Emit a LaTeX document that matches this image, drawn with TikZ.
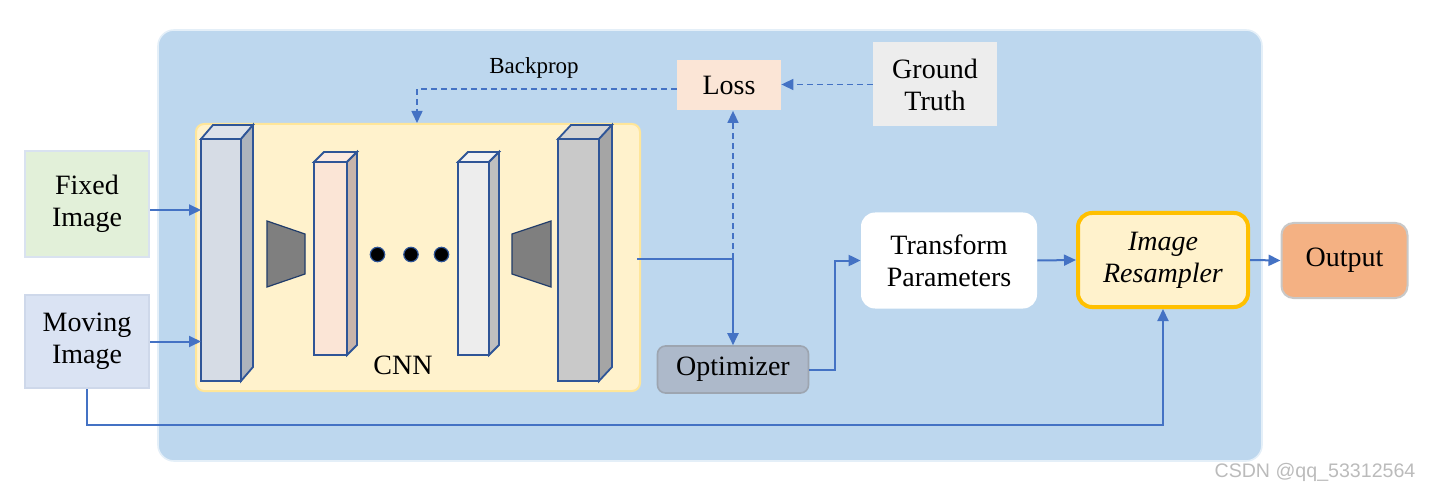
\documentclass[tikz,border=0pt]{standalone}
\usepackage{fontspec}
\setmainfont{Liberation Serif}
\newfontfamily\wmfont{Liberation Sans}
\usetikzlibrary{arrows.meta,calc}
\definecolor{bgblue}{HTML}{BDD7EE}
\definecolor{lineblue}{HTML}{4472C4}
\definecolor{layerline}{HTML}{2F5597}
\definecolor{fixedfill}{HTML}{E2F0D9}
\definecolor{fixeddraw}{HTML}{D9E2F0}
\definecolor{movingfill}{HTML}{DAE3F3}
\definecolor{movingdraw}{HTML}{CED8EA}
\definecolor{cnnfill}{HTML}{FFF2CC}
\definecolor{cnndraw}{HTML}{FFE699}
\definecolor{lossfill}{HTML}{FBE5D6}
\definecolor{gtfill}{HTML}{EDEDED}
\definecolor{rsdraw}{HTML}{FFC000}
\definecolor{outfill}{HTML}{F4B183}
\definecolor{outdraw}{HTML}{C8C8C8}
\definecolor{optfill}{HTML}{ADB9CA}
\definecolor{optdraw}{HTML}{9DA5B0}
\definecolor{trapfill}{HTML}{7F7F7F}
\definecolor{wmgray}{HTML}{BBBBBB}
\definecolor{lafront}{HTML}{D6DCE5}
\definecolor{laside}{HTML}{ADB3BC}
\definecolor{latop}{HTML}{DDE2EA}
\definecolor{lbside}{HTML}{C9B5AB}
\definecolor{lbtop}{HTML}{FCEAE0}
\definecolor{lcside}{HTML}{BFBFBF}
\definecolor{lctop}{HTML}{F2F2F2}
\definecolor{ldfront}{HTML}{C9C9C9}
\definecolor{ldside}{HTML}{A5A5A5}
\definecolor{ldtop}{HTML}{D3D3D3}
\newcommand\mylayer[9]{%
  \filldraw[layerstyle, fill=#9] (#1,#2) -- (#3,#2) -- ++(#5,-#6) -- ++(#1-#3,0) -- cycle;
  \filldraw[layerstyle, fill=#8] (#3,#2) -- ++(#5,-#6) -- ++(0,#4-#2) -- (#3,#4) -- cycle;
  \filldraw[layerstyle, fill=#7] (#1,#2) rectangle (#3,#4);
}
\tikzset{
  box/.style={inner sep=0pt, align=center, font=\fontsize{14}{16}\selectfont},
  conn/.style={draw=lineblue, line width=1pt, -{Triangle[length=6pt,width=5.5pt]}},
  plain/.style={draw=lineblue, line width=1pt},
  dashconn/.style={draw=lineblue, line width=0.75pt, dash pattern=on 3pt off 2pt, -{Triangle[length=6pt,width=5.5pt]}},
  layerstyle/.style={draw=layerline, line width=0.9pt, line join=miter},
  trap/.style={fill=trapfill, draw=layerline!70!black, line width=0.6pt},
}
\begin{document}
\begin{tikzpicture}[x=0.5pt,y=-0.5pt]
\useasboundingbox (0,0) rectangle (1431,492);
% background panel
\fill[bgblue, rounded corners=8pt] (158,30) rectangle (1262,461);
\draw[white!60!bgblue, line width=0.8pt, rounded corners=8pt] (158,30) rectangle (1262,461);

% nodes
\node[box, fill=fixedfill, draw=fixeddraw, line width=1pt, minimum width=62pt, minimum height=53pt] (fixed) at (87,204) {Fixed\\Image};
\node[box, fill=movingfill, draw=movingdraw, line width=1pt, minimum width=62pt, minimum height=46.5pt] (moving) at (87,341.5) {Moving\\Image};
\node[box, fill=cnnfill, draw=cnndraw, line width=1pt, rounded corners=4pt, minimum width=222pt, minimum height=133.5pt] (cnn) at (418,257.5) {};
\node[box, fill=lossfill, minimum width=52pt, minimum height=25pt] (loss) at (729,85.5) {Loss};
\node[box, fill=gtfill, minimum width=62pt, minimum height=42pt] (gt) at (935,84.5) {Ground\\Truth};
\node[box, fill=white, rounded corners=7pt, minimum width=88pt, minimum height=48pt] (tp) at (949,260.5) {Transform\\Parameters};
\node[box, fill=cnnfill, draw=rsdraw, line width=2pt, rounded corners=7pt, minimum width=85pt, minimum height=47pt] (rs) at (1163,260) {\itshape Image\\\itshape Resampler};
\node[box, fill=outfill, draw=outdraw, line width=1pt, rounded corners=6pt, minimum width=63pt, minimum height=37.5pt] (out) at (1344.5,260.5) {Output};
\node[box, fill=optfill, draw=optdraw, line width=0.8pt, rounded corners=4pt, minimum width=75.5pt, minimum height=23.5pt] (opt) at (733,369.5) {Optimizer};

% CNN internals
\mylayer{201}{139}{241}{381}{12}{14}{lafront}{laside}{latop}
\mylayer{314}{162}{347}{355}{10}{10}{lossfill}{lbside}{lbtop}
\mylayer{458}{162}{489}{355}{10}{10}{gtfill}{lcside}{lctop}
\mylayer{558}{139}{599}{381}{13}{14}{ldfront}{ldside}{ldtop}
\filldraw[trap] (267,221) -- (305,234) -- (305,274) -- (267,287) -- cycle;
\filldraw[trap] (551,221) -- (512,234) -- (512,274) -- (551,287) -- cycle;
\foreach \dx in {377.5,411,441.5}
  \filldraw[fill=black, draw=layerline, line width=0.6pt] (\dx,254.5) circle (3.6pt);
\node[box] (cnnlabel) at (403,365) {CNN};
\coordinate (l1w) at (201,260);

% coordinates for routing
\coordinate (j) at (733,259);
\coordinate (bpx) at (417,0);
\coordinate (k) at (835,0);
\coordinate (low) at (0,425);

% connectors
\draw[conn] ([yshift=-3pt]fixed.east) -- ([yshift=-3pt]fixed.east -| l1w);
\draw[conn] (moving.east) -- (moving.east -| l1w);
\draw[plain] ([xshift=-2pt]cnn.east |- j) -- (j);
\draw[conn] (j) -- (opt.north);
\draw[dashconn] (j) -- (j |- loss.south);
\draw[dashconn] ([yshift=-1.75pt]loss.west) -| (bpx |- cnn.north);
\node[font=\fontsize{11.5}{13}\selectfont, inner sep=0pt] (bplabel) at (534,68) {Backprop};
\draw[dashconn] (gt.west) -- (gt.west -| loss.east);
\draw[conn] (opt.east) -| (k |- tp.west) -- (tp.west);
\draw[conn] (tp.east) -- (rs.west);
\draw[conn] (rs.east) -- (out.west);
\draw[conn] (moving.south) |- (low -| rs.south) -- (rs.south);

% watermark
\node[font=\wmfont\fontsize{9.8}{11}\selectfont, text=wmgray, inner sep=0pt] (wm) at (1315,472) {CSDN @qq\_53312564};
\end{tikzpicture}
\end{document}
